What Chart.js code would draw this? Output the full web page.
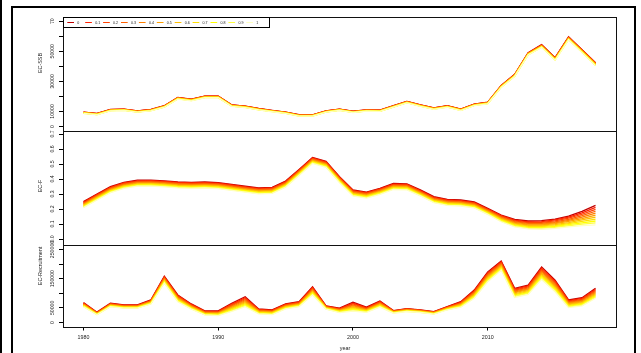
<!DOCTYPE html>
<html>
<head>
<meta charset="utf-8">
<script src="https://cdn.jsdelivr.net/npm/chart.js@4.4.0/dist/chart.umd.min.js"></script>
<style>
  html, body { margin: 0; padding: 0; background: #fff; }
  #wrap { position: relative; width: 641px; height: 353px; }
</style>
</head>
<body>
<div id="wrap"><canvas id="chart" width="641" height="353"></canvas></div>
<script>
const years = [1980, 1981, 1982, 1983, 1984, 1985, 1986, 1987, 1988, 1989,
    1990, 1991, 1992, 1993, 1994, 1995, 1996, 1997, 1998, 1999,
    2000, 2001, 2002, 2003, 2004, 2005, 2006, 2007, 2008, 2009,
    2010, 2011, 2012, 2013, 2014, 2015, 2016, 2017, 2018];

const scenarios = ['0', '0.1', '0.2', '0.3', '0.4', '0.5', '0.6', '0.7', '0.8', '0.9', '1'];
const lineColors = ['#C00000', '#FF2000', '#FF4000', '#FF6000', '#FF8000', '#FF9F00',
    '#FFBF00', '#FFDF00', '#FFFF00', '#FFFF40', '#FFFFBF'];

// EC-SSB, one row per scenario
const ssbRuns = [
    [9600, 8700, 11300, 11600, 10400, 11300, 13800, 19300, 18200, 20200, 20200, 14400, 13600, 12000, 10700, 9600, 7800, 7800, 10400, 11600, 10200, 11100, 10900, 13800, 16700, 14400, 12400, 13800, 11600, 14900, 16200, 27300, 34700, 49100, 54400, 45800, 59600, 51100, 42400],
    [9510, 8610, 11210, 11510, 10310, 11210, 13700, 19190, 18090, 20090, 20090, 14300, 13500, 11900, 10610, 9510, 7710, 7710, 10310, 11510, 10110, 11010, 10810, 13700, 16600, 14300, 12300, 13700, 11500, 14800, 16090, 27170, 34560, 48940, 54220, 45620, 59400, 50900, 42200],
    [9420, 8520, 11120, 11420, 10220, 11120, 13600, 19080, 17980, 19980, 19980, 14200, 13400, 11800, 10520, 9420, 7620, 7620, 10220, 11420, 10020, 10920, 10720, 13600, 16500, 14200, 12200, 13600, 11400, 14700, 15980, 27040, 34420, 48780, 54040, 45440, 59200, 50700, 42000],
    [9330, 8430, 11030, 11330, 10130, 11030, 13500, 18970, 17870, 19870, 19870, 14100, 13300, 11700, 10430, 9330, 7530, 7530, 10130, 11330, 9930, 10830, 10630, 13500, 16400, 14100, 12100, 13500, 11300, 14600, 15870, 26910, 34280, 48620, 53860, 45260, 59000, 50500, 41800],
    [9240, 8340, 10940, 11240, 10040, 10940, 13400, 18860, 17760, 19760, 19760, 14000, 13200, 11600, 10340, 9240, 7440, 7440, 10040, 11240, 9840, 10740, 10540, 13400, 16300, 14000, 12000, 13400, 11200, 14500, 15760, 26780, 34140, 48460, 53680, 45080, 58800, 50300, 41600],
    [9150, 8250, 10850, 11150, 9950, 10850, 13300, 18750, 17650, 19650, 19650, 13900, 13100, 11500, 10250, 9150, 7350, 7350, 9950, 11150, 9750, 10650, 10450, 13300, 16200, 13900, 11900, 13300, 11100, 14400, 15650, 26650, 34000, 48300, 53500, 44900, 58600, 50100, 41400],
    [9060, 8160, 10760, 11060, 9860, 10760, 13200, 18640, 17540, 19540, 19540, 13800, 13000, 11400, 10160, 9060, 7260, 7260, 9860, 11060, 9660, 10560, 10360, 13200, 16100, 13800, 11800, 13200, 11000, 14300, 15540, 26520, 33860, 48140, 53320, 44720, 58400, 49900, 41200],
    [8970, 8070, 10670, 10970, 9770, 10670, 13100, 18530, 17430, 19430, 19430, 13700, 12900, 11300, 10070, 8970, 7170, 7170, 9770, 10970, 9570, 10470, 10270, 13100, 16000, 13700, 11700, 13100, 10900, 14200, 15430, 26390, 33720, 47980, 53140, 44540, 58200, 49700, 41000],
    [8880, 7980, 10580, 10880, 9680, 10580, 13000, 18420, 17320, 19320, 19320, 13600, 12800, 11200, 9980, 8880, 7080, 7080, 9680, 10880, 9480, 10380, 10180, 13000, 15900, 13600, 11600, 13000, 10800, 14100, 15320, 26260, 33580, 47820, 52960, 44360, 58000, 49500, 40800],
    [8790, 7890, 10490, 10790, 9590, 10490, 12900, 18310, 17210, 19210, 19210, 13500, 12700, 11100, 9890, 8790, 6990, 6990, 9590, 10790, 9390, 10290, 10090, 12900, 15800, 13500, 11500, 12900, 10700, 14000, 15210, 26130, 33440, 47660, 52780, 44180, 57800, 49300, 40600],
    [8700, 7800, 10400, 10700, 9500, 10400, 12800, 18200, 17100, 19100, 19100, 13400, 12600, 11000, 9800, 8700, 6900, 6900, 9500, 10700, 9300, 10200, 10000, 12800, 15700, 13400, 11400, 12800, 10600, 13900, 15100, 26000, 33300, 47500, 52600, 44000, 57600, 49100, 40400],
];

// EC-F, one row per scenario
const fRuns = [
    [0.249, 0.300, 0.349, 0.378, 0.392, 0.393, 0.388, 0.381, 0.378, 0.380, 0.376, 0.364, 0.352, 0.341, 0.344, 0.386, 0.464, 0.544, 0.518, 0.416, 0.327, 0.313, 0.338, 0.370, 0.368, 0.327, 0.282, 0.264, 0.260, 0.247, 0.204, 0.160, 0.131, 0.120, 0.122, 0.133, 0.153, 0.184, 0.224],
    [0.245, 0.296, 0.345, 0.374, 0.388, 0.389, 0.384, 0.377, 0.374, 0.376, 0.372, 0.360, 0.348, 0.337, 0.340, 0.382, 0.460, 0.540, 0.514, 0.412, 0.323, 0.309, 0.334, 0.366, 0.364, 0.323, 0.278, 0.260, 0.256, 0.243, 0.200, 0.1555, 0.126, 0.1147, 0.1163, 0.1268, 0.1458, 0.1745, 0.211],
    [0.241, 0.292, 0.341, 0.370, 0.384, 0.385, 0.380, 0.373, 0.370, 0.372, 0.368, 0.356, 0.344, 0.333, 0.336, 0.378, 0.456, 0.536, 0.510, 0.408, 0.319, 0.305, 0.330, 0.362, 0.360, 0.319, 0.274, 0.256, 0.252, 0.239, 0.196, 0.151, 0.121, 0.1094, 0.1106, 0.1206, 0.1386, 0.165, 0.198],
    [0.237, 0.288, 0.337, 0.366, 0.380, 0.381, 0.376, 0.369, 0.366, 0.368, 0.364, 0.352, 0.340, 0.329, 0.332, 0.374, 0.452, 0.532, 0.506, 0.404, 0.315, 0.301, 0.326, 0.358, 0.356, 0.315, 0.270, 0.252, 0.248, 0.235, 0.192, 0.1465, 0.116, 0.1041, 0.1049, 0.1144, 0.1314, 0.1555, 0.185],
    [0.233, 0.284, 0.333, 0.362, 0.376, 0.377, 0.372, 0.365, 0.362, 0.364, 0.360, 0.348, 0.336, 0.325, 0.328, 0.370, 0.448, 0.528, 0.502, 0.400, 0.311, 0.297, 0.322, 0.354, 0.352, 0.311, 0.266, 0.248, 0.244, 0.231, 0.188, 0.142, 0.111, 0.0988, 0.0992, 0.1082, 0.1242, 0.146, 0.172],
    [0.229, 0.280, 0.329, 0.358, 0.372, 0.373, 0.368, 0.361, 0.358, 0.360, 0.356, 0.344, 0.332, 0.321, 0.324, 0.366, 0.444, 0.524, 0.498, 0.396, 0.307, 0.293, 0.318, 0.350, 0.348, 0.307, 0.262, 0.244, 0.240, 0.227, 0.184, 0.1375, 0.106, 0.0935, 0.0935, 0.102, 0.117, 0.1365, 0.159],
    [0.225, 0.276, 0.325, 0.354, 0.368, 0.369, 0.364, 0.357, 0.354, 0.356, 0.352, 0.340, 0.328, 0.317, 0.320, 0.362, 0.440, 0.520, 0.494, 0.392, 0.303, 0.289, 0.314, 0.346, 0.344, 0.303, 0.258, 0.240, 0.236, 0.223, 0.180, 0.133, 0.101, 0.0882, 0.0878, 0.0958, 0.1098, 0.127, 0.146],
    [0.221, 0.272, 0.321, 0.350, 0.364, 0.365, 0.360, 0.353, 0.350, 0.352, 0.348, 0.336, 0.324, 0.313, 0.316, 0.358, 0.436, 0.516, 0.490, 0.388, 0.299, 0.285, 0.310, 0.342, 0.340, 0.299, 0.254, 0.236, 0.232, 0.219, 0.176, 0.1285, 0.096, 0.0829, 0.0821, 0.0896, 0.1026, 0.1175, 0.133],
    [0.217, 0.268, 0.317, 0.346, 0.360, 0.361, 0.356, 0.349, 0.346, 0.348, 0.344, 0.332, 0.320, 0.309, 0.312, 0.354, 0.432, 0.512, 0.486, 0.384, 0.295, 0.281, 0.306, 0.338, 0.336, 0.295, 0.250, 0.232, 0.228, 0.215, 0.172, 0.124, 0.091, 0.0776, 0.0764, 0.0834, 0.0954, 0.108, 0.120],
    [0.213, 0.264, 0.313, 0.342, 0.356, 0.357, 0.352, 0.345, 0.342, 0.344, 0.340, 0.328, 0.316, 0.305, 0.308, 0.350, 0.428, 0.508, 0.482, 0.380, 0.291, 0.277, 0.302, 0.334, 0.332, 0.291, 0.246, 0.228, 0.224, 0.211, 0.168, 0.1195, 0.086, 0.0723, 0.0707, 0.0772, 0.0882, 0.0985, 0.107],
    [0.209, 0.260, 0.309, 0.338, 0.352, 0.353, 0.348, 0.341, 0.338, 0.340, 0.336, 0.324, 0.312, 0.301, 0.304, 0.346, 0.424, 0.504, 0.478, 0.376, 0.287, 0.273, 0.298, 0.330, 0.328, 0.287, 0.242, 0.224, 0.220, 0.207, 0.164, 0.115, 0.081, 0.067, 0.065, 0.071, 0.081, 0.089, 0.094],
];

// EC-Recruitment, one row per scenario
const recRuns = [
    [68000, 35400, 66000, 60200, 60200, 77200, 158800, 94200, 63600, 39800, 39800, 66000, 88400, 46600, 43200, 63600, 71400, 122400, 56800, 49000, 69400, 52400, 73800, 40800, 47600, 43200, 37400, 54400, 71400, 111200, 173500, 210900, 117000, 128200, 190500, 145200, 77200, 85000, 117000],
    [66600, 34500, 64800, 59100, 59100, 75800, 156400, 91900, 61800, 38400, 38200, 63200, 85000, 44900, 41600, 61900, 69700, 119600, 55700, 47500, 66400, 50600, 71700, 39900, 46600, 42300, 36500, 53300, 69500, 108400, 170100, 207700, 113900, 125000, 186200, 141200, 74600, 82200, 113600],
    [65200, 33600, 63600, 58000, 58000, 74400, 154000, 89600, 60000, 37000, 36600, 60400, 81600, 43200, 40000, 60200, 68000, 116800, 54600, 46000, 63400, 48800, 69600, 39000, 45600, 41400, 35600, 52200, 67600, 105600, 166700, 204500, 110800, 121800, 181900, 137200, 72000, 79400, 110200],
    [63800, 32700, 62400, 56900, 56900, 73000, 151600, 87300, 58200, 35600, 35000, 57600, 78200, 41500, 38400, 58500, 66300, 114000, 53500, 44500, 60400, 47000, 67500, 38100, 44600, 40500, 34700, 51100, 65700, 102800, 163300, 201300, 107700, 118600, 177600, 133200, 69400, 76600, 106800],
    [62400, 31800, 61200, 55800, 55800, 71600, 149200, 85000, 56400, 34200, 33400, 54800, 74800, 39800, 36800, 56800, 64600, 111200, 52400, 43000, 57400, 45200, 65400, 37200, 43600, 39600, 33800, 50000, 63800, 100000, 159900, 198100, 104600, 115400, 173300, 129200, 66800, 73800, 103400],
    [61000, 30900, 60000, 54700, 54700, 70200, 146800, 82700, 54600, 32800, 31800, 52000, 71400, 38100, 35200, 55100, 62900, 108400, 51300, 41500, 54400, 43400, 63300, 36300, 42600, 38700, 32900, 48900, 61900, 97200, 156500, 194900, 101500, 112200, 169000, 125200, 64200, 71000, 100000],
    [59600, 30000, 58800, 53600, 53600, 68800, 144400, 80400, 52800, 31400, 30200, 49200, 68000, 36400, 33600, 53400, 61200, 105600, 50200, 40000, 51400, 41600, 61200, 35400, 41600, 37800, 32000, 47800, 60000, 94400, 153100, 191700, 98400, 109000, 164700, 121200, 61600, 68200, 96600],
    [58200, 29100, 57600, 52500, 52500, 67400, 142000, 78100, 51000, 30000, 28600, 46400, 64600, 34700, 32000, 51700, 59500, 102800, 49100, 38500, 48400, 39800, 59100, 34500, 40600, 36900, 31100, 46700, 58100, 91600, 149700, 188500, 95300, 105800, 160400, 117200, 59000, 65400, 93200],
    [56800, 28200, 56400, 51400, 51400, 66000, 139600, 75800, 49200, 28600, 27000, 43600, 61200, 33000, 30400, 50000, 57800, 100000, 48000, 37000, 45400, 38000, 57000, 33600, 39600, 36000, 30200, 45600, 56200, 88800, 146300, 185300, 92200, 102600, 156100, 113200, 56400, 62600, 89800],
    [55400, 27300, 55200, 50300, 50300, 64600, 137200, 73500, 47400, 27200, 25400, 40800, 57800, 31300, 28800, 48300, 56100, 97200, 46900, 35500, 42400, 36200, 54900, 32700, 38600, 35100, 29300, 44500, 54300, 86000, 142900, 182100, 89100, 99400, 151800, 109200, 53800, 59800, 86400],
    [54000, 26400, 54000, 49200, 49200, 63200, 134800, 71200, 45600, 25800, 23800, 38000, 54400, 29600, 27200, 46600, 54400, 94400, 45800, 34000, 39400, 34400, 52800, 31800, 37600, 34200, 28400, 43400, 52400, 83200, 139500, 178900, 86000, 96200, 147500, 105200, 51200, 57000, 83000],
];

const yearTicks = [1980, 1990, 2000, 2010];
const ssbTicks = [0, 10000, 20000, 30000, 40000, 50000, 60000, 70000];
const ssbTickLabels = ['0', '10000', '', '30000', '', '50000', '', '70'];
const fTicks = [0, 0.1, 0.2, 0.3, 0.4, 0.5, 0.6, 0.7];
const fTickLabels = ['0.0', '0.1', '0.2', '0.3', '0.4', '0.5', '0.6', '0.7'];
const recTicks = [0, 50000, 100000, 150000, 200000, 250000];
const recTickLabels = ['0', '50000', '', '150000', '', '250000'];

const FONT = "'Liberation Sans', Arial, Helvetica, sans-serif";
const INK = '#222';
Chart.defaults.font.family = FONT;

const panels = [
    { id: 'ySsb', title: 'EC-SSB', titleY: 63, ticks: ssbTicks, labels: ssbTickLabels },
    { id: 'yF', title: 'EC-F', titleY: 186, ticks: fTicks, labels: fTickLabels },
    { id: 'yRec', title: 'EC-Recruitment', titleY: 266, ticks: recTicks, labels: recTickLabels },
];

function makeSets(runs, axisId) {
    return runs.map((run, k) => ({
        label: scenarios[k],
        data: years.map((yr, i) => ({ x: yr, y: run[i] })),
        yAxisID: axisId,
        borderColor: lineColors[k],
        borderWidth: 1.3,
        pointRadius: 0,
        tension: 0,
        fill: false,
        order: runs.length - k,
    }));
}

function yAxis(ticks, min, max, weight, stackWeight) {
    return {
        type: 'linear',
        position: 'left',
        stack: 'panels',
        stackWeight: stackWeight,
        weight: weight,
        min: min,
        max: max,
        afterBuildTicks: (scale) => { scale.ticks = ticks.map(v => ({ value: v })); },
        afterFit: (scale) => { scale.width = 20; },
        ticks: { display: false },
        grid: { drawOnChartArea: false, drawTicks: true, tickLength: 4, color: '#000', lineWidth: 1 },
        border: { display: false },
    };
}

const decorations = {
    id: 'decorations',
    afterDraw(chart) {
        const { ctx, chartArea: area, scales } = chart;
        ctx.save();

        // page frame
        ctx.fillStyle = '#000';
        ctx.fillRect(0, 0, 2, 353);
        ctx.strokeStyle = '#000';
        ctx.lineWidth = 2;
        ctx.beginPath();
        ctx.moveTo(12, 360);
        ctx.lineTo(12, 7);
        ctx.lineTo(635, 7);
        ctx.lineTo(635, 360);
        ctx.stroke();

        // panel boxes
        ctx.lineWidth = 1;
        ctx.strokeStyle = '#111';
        panels.forEach(p => {
            const s = scales[p.id];
            ctx.strokeRect(Math.round(area.left) + 0.5, Math.round(s.top) + 0.5,
                Math.round(area.right - area.left), Math.round(s.bottom - s.top));
        });

        // rotated y tick labels and axis titles
        ctx.fillStyle = INK;
        ctx.textAlign = 'center';
        ctx.textBaseline = 'middle';
        panels.forEach(p => {
            const s = scales[p.id];
            ctx.font = '5.2px ' + FONT;
            p.ticks.forEach((v, i) => {
                if (!p.labels[i]) return;
                ctx.save();
                ctx.translate(53, s.getPixelForValue(v));
                ctx.rotate(-Math.PI / 2);
                ctx.fillText(p.labels[i], 0, 0);
                ctx.restore();
            });
            ctx.font = '5.4px ' + FONT;
            ctx.save();
            ctx.translate(41, p.titleY);
            ctx.rotate(-Math.PI / 2);
            ctx.fillText(p.title, 0, 0);
            ctx.restore();
        });

        ctx.font = '5.4px ' + FONT;
        ctx.fillText('year', 345, 349);

        // legend
        ctx.lineWidth = 1;
        ctx.strokeStyle = '#000';
        ctx.fillStyle = '#fff';
        ctx.fillRect(63.5, 17.5, 206, 10);
        ctx.strokeRect(63.5, 17.5, 206, 10);
        ctx.font = '3.6px ' + FONT;
        ctx.textAlign = 'left';
        scenarios.forEach((name, i) => {
            const x0 = 67.3 + i * 17.9;
            ctx.strokeStyle = lineColors[i];
            ctx.beginPath();
            ctx.moveTo(x0, 22.5);
            ctx.lineTo(x0 + 6.7, 22.5);
            ctx.stroke();
            ctx.fillStyle = INK;
            ctx.fillText(name, x0 + 10, 22.6);
        });

        ctx.restore();
    }
};

new Chart(document.getElementById('chart'), {
    type: 'line',
    data: {
        datasets: [
            ...makeSets(ssbRuns, 'ySsb'),
            ...makeSets(fRuns, 'yF'),
            ...makeSets(recRuns, 'yRec'),
        ],
    },
    options: {
        responsive: false,
        animation: false,
        devicePixelRatio: 1,
        layout: { padding: { top: 17, left: 43, right: 25, bottom: 0 } },
        plugins: { legend: { display: false }, tooltip: { enabled: false } },
        scales: {
            x: {
                type: 'linear',
                min: 1978.48,
                max: 2019.52,
                afterBuildTicks: (scale) => { scale.ticks = yearTicks.map(v => ({ value: v })); },
                afterFit: (scale) => { scale.height = 26.5; },
                ticks: {
                    color: INK,
                    font: { size: 5.3, family: FONT },
                    padding: 3.5,
                    maxRotation: 0,
                    callback: (v) => String(v),
                },
                grid: { drawOnChartArea: false, drawTicks: true, tickLength: 4, color: '#000' },
                border: { display: false },
            },
            ySsb: yAxis(ssbTicks, -3000, 72800, 3, 114),
            yF: yAxis(fTicks, -0.04, 0.72, 2, 114),
            yRec: yAxis(recTicks, -13700, 265400, 1, 81.5),
        },
    },
    plugins: [decorations],
});
</script>
</body>
</html>
